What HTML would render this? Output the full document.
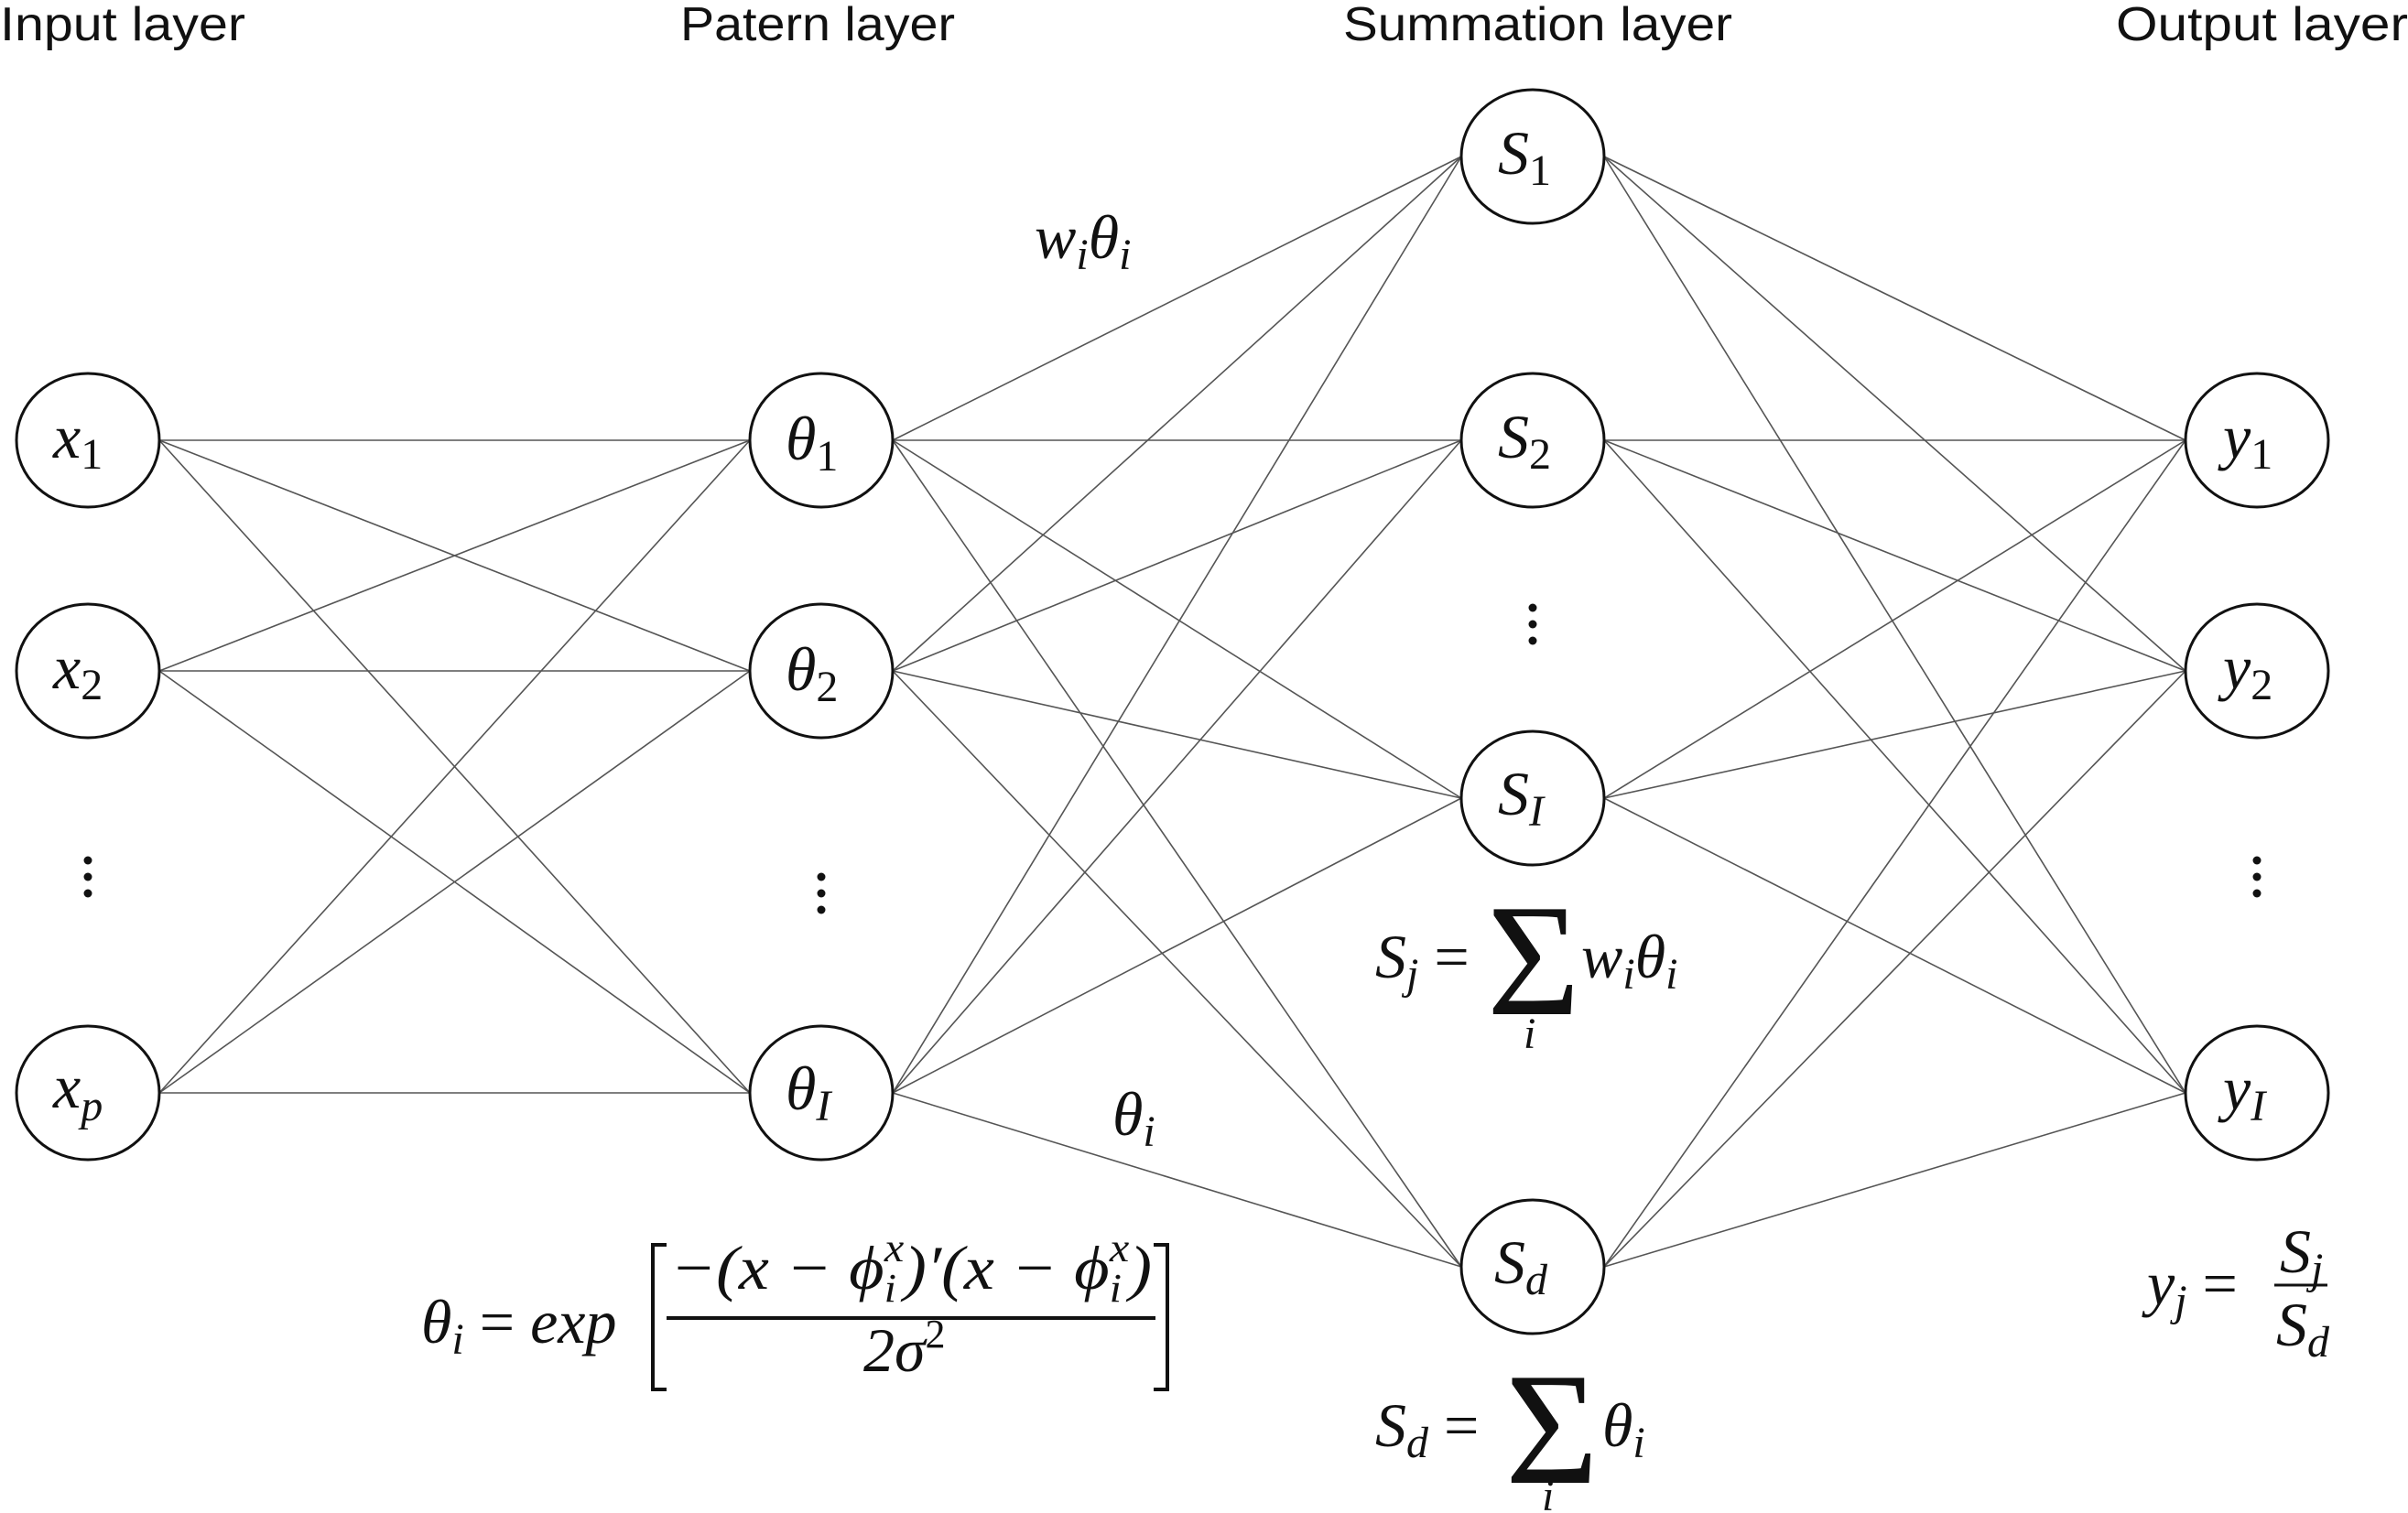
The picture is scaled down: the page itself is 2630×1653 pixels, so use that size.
<!DOCTYPE html>
<html><head><meta charset="utf-8"><style>
html,body{margin:0;padding:0;background:#fff;}
svg{display:block;}
.h{font-family:"Liberation Sans",sans-serif;font-size:52px;fill:#111;}
.m{font-family:"Liberation Serif",serif;font-style:italic;fill:#111;}
.n{font-family:"Liberation Serif",serif;font-style:normal;fill:#111;}
</style></head><body>
<svg width="2630" height="1653" viewBox="0 0 2630 1653" xmlns="http://www.w3.org/2000/svg">
<text class="h" x="0" y="44" textLength="268" lengthAdjust="spacingAndGlyphs">Input layer</text>
<text class="h" x="743" y="44" textLength="300" lengthAdjust="spacingAndGlyphs">Patern layer</text>
<text class="h" x="1467" y="44" textLength="425" lengthAdjust="spacingAndGlyphs">Summation layer</text>
<text class="h" x="2311" y="44" textLength="319" lengthAdjust="spacingAndGlyphs">Output layer</text>
<g stroke="#555" stroke-width="1.6" fill="none">
<line x1="174" y1="481" x2="819" y2="481"/><line x1="174" y1="481" x2="819" y2="733"/><line x1="174" y1="481" x2="819" y2="1194"/>
<line x1="174" y1="733" x2="819" y2="481"/><line x1="174" y1="733" x2="819" y2="733"/><line x1="174" y1="733" x2="819" y2="1194"/>
<line x1="174" y1="1194" x2="819" y2="481"/><line x1="174" y1="1194" x2="819" y2="733"/><line x1="174" y1="1194" x2="819" y2="1194"/>
<line x1="975" y1="481" x2="1596" y2="171"/><line x1="975" y1="481" x2="1596" y2="481"/><line x1="975" y1="481" x2="1596" y2="872"/><line x1="975" y1="481" x2="1596" y2="1384"/>
<line x1="975" y1="733" x2="1596" y2="171"/><line x1="975" y1="733" x2="1596" y2="481"/><line x1="975" y1="733" x2="1596" y2="872"/><line x1="975" y1="733" x2="1596" y2="1384"/>
<line x1="975" y1="1194" x2="1596" y2="171"/><line x1="975" y1="1194" x2="1596" y2="481"/><line x1="975" y1="1194" x2="1596" y2="872"/><line x1="975" y1="1194" x2="1596" y2="1384"/>
<line x1="1752" y1="171" x2="2387" y2="481"/><line x1="1752" y1="171" x2="2387" y2="733"/><line x1="1752" y1="171" x2="2387" y2="1194"/>
<line x1="1752" y1="481" x2="2387" y2="481"/><line x1="1752" y1="481" x2="2387" y2="733"/><line x1="1752" y1="481" x2="2387" y2="1194"/>
<line x1="1752" y1="872" x2="2387" y2="481"/><line x1="1752" y1="872" x2="2387" y2="733"/><line x1="1752" y1="872" x2="2387" y2="1194"/>
<line x1="1752" y1="1384" x2="2387" y2="481"/><line x1="1752" y1="1384" x2="2387" y2="733"/><line x1="1752" y1="1384" x2="2387" y2="1194"/>
</g>
<g stroke="#111" stroke-width="3" fill="#fff">
<ellipse cx="96" cy="481" rx="78" ry="73"/><ellipse cx="96" cy="733" rx="78" ry="73"/><ellipse cx="96" cy="1194" rx="78" ry="73"/>
<ellipse cx="897" cy="481" rx="78" ry="73"/><ellipse cx="897" cy="733" rx="78" ry="73"/><ellipse cx="897" cy="1194" rx="78" ry="73"/>
<ellipse cx="1674" cy="171" rx="78" ry="73"/><ellipse cx="1674" cy="481" rx="78" ry="73"/><ellipse cx="1674" cy="872" rx="78" ry="73"/><ellipse cx="1674" cy="1384" rx="78" ry="73"/>
<ellipse cx="2465" cy="481" rx="78" ry="73"/><ellipse cx="2465" cy="733" rx="78" ry="73"/><ellipse cx="2465" cy="1194" rx="78" ry="73"/>
</g>
<g class="m" font-size="68">
<text x="58" y="500">x<tspan class="n" font-size="48" dy="12">1</tspan></text>
<text x="58" y="752">x<tspan class="n" font-size="48" dy="12">2</tspan></text>
<text x="58" y="1210">x<tspan font-size="48" dy="14">p</tspan></text>
<text x="858" y="502">θ<tspan class="n" font-size="48" dy="12">1</tspan></text>
<text x="858" y="754">θ<tspan class="n" font-size="48" dy="12">2</tspan></text>
<text x="858" y="1212">θ<tspan font-size="48" dy="12">I</tspan></text>
<text x="1636" y="190">S<tspan class="n" font-size="48" dy="12">1</tspan></text>
<text x="1636" y="500">S<tspan class="n" font-size="48" dy="12">2</tspan></text>
<text x="1636" y="890">S<tspan font-size="48" dy="12">I</tspan></text>
<text x="1632" y="1402">S<tspan font-size="48" dy="12">d</tspan></text>
<text x="2428" y="500">y<tspan class="n" font-size="48" dy="12">1</tspan></text>
<text x="2428" y="752">y<tspan class="n" font-size="48" dy="12">2</tspan></text>
<text x="2428" y="1212">y<tspan font-size="48" dy="12">I</tspan></text>
<text x="1130" y="282">w<tspan font-size="48" dy="12">i</tspan><tspan dy="-12">θ</tspan><tspan font-size="48" dy="12">i</tspan></text>
<text x="1215" y="1240">θ<tspan font-size="48" dy="12">i</tspan></text>
</g>
<g fill="#111">
<circle cx="96" cy="940" r="4.5"/><circle cx="96" cy="958" r="4.5"/><circle cx="96" cy="976" r="4.5"/>
<circle cx="897" cy="958" r="4.5"/><circle cx="897" cy="976" r="4.5"/><circle cx="897" cy="994" r="4.5"/>
<circle cx="1674" cy="664" r="4.5"/><circle cx="1674" cy="682" r="4.5"/><circle cx="1674" cy="700" r="4.5"/>
<circle cx="2465" cy="940" r="4.5"/><circle cx="2465" cy="958" r="4.5"/><circle cx="2465" cy="976" r="4.5"/>
</g>
<g class="m" font-size="68">
<text x="460" y="1467">θ<tspan font-size="48" dy="12">i</tspan><tspan class="n" dy="-12"> = </tspan>exp</text>
<text x="732" y="1408" textLength="526" lengthAdjust="spacingAndGlyphs">−(x − ϕ<tspan font-size="44" dy="14">i</tspan><tspan dx="-12" font-size="44" dy="-44">x</tspan><tspan dy="30">)′(x − ϕ</tspan><tspan font-size="44" dy="14">i</tspan><tspan dx="-12" font-size="44" dy="-44">x</tspan><tspan dy="30">)</tspan></text>
<text x="943" y="1498">2σ<tspan class="n" font-size="44" dy="-26">2</tspan></text>
</g>
<g stroke="#111" fill="none" stroke-width="4">
<line x1="728" y1="1440" x2="1262" y2="1440"/>
<polyline points="728,1360 713,1360 713,1518 728,1518"/>
<polyline points="1260,1360 1275,1360 1275,1518 1260,1518"/>
</g>
<g class="m" font-size="68">
<text x="1502" y="1068">S<tspan font-size="48" dy="12">j</tspan><tspan class="n" dy="-12"> =</tspan></text>
<text class="n" x="1624" y="1108" font-size="175">Σ</text>
<text x="1664" y="1145" font-size="48">i</text>
<text x="1727" y="1068">w<tspan font-size="48" dy="12">i</tspan><tspan dy="-12">θ</tspan><tspan font-size="48" dy="12">i</tspan></text>
<text x="1502" y="1580">S<tspan font-size="48" dy="12">d</tspan><tspan class="n" dy="-12"> =</tspan></text>
<text class="n" x="1644" y="1620" font-size="175">Σ</text>
<text x="1684" y="1650" font-size="48">i</text>
<text x="1750" y="1580">θ<tspan font-size="48" dy="12">i</tspan></text>
<text x="2345" y="1425">y<tspan font-size="48" dy="12">j</tspan><tspan class="n" dy="-12"> =</tspan></text>
<text x="2490" y="1390">S<tspan font-size="48" dy="12">j</tspan></text>
<text x="2486" y="1470">S<tspan font-size="48" dy="12">d</tspan></text>
</g>
<line x1="2484" y1="1404" x2="2542" y2="1404" stroke="#111" stroke-width="3"/>
</svg>
</body></html>
